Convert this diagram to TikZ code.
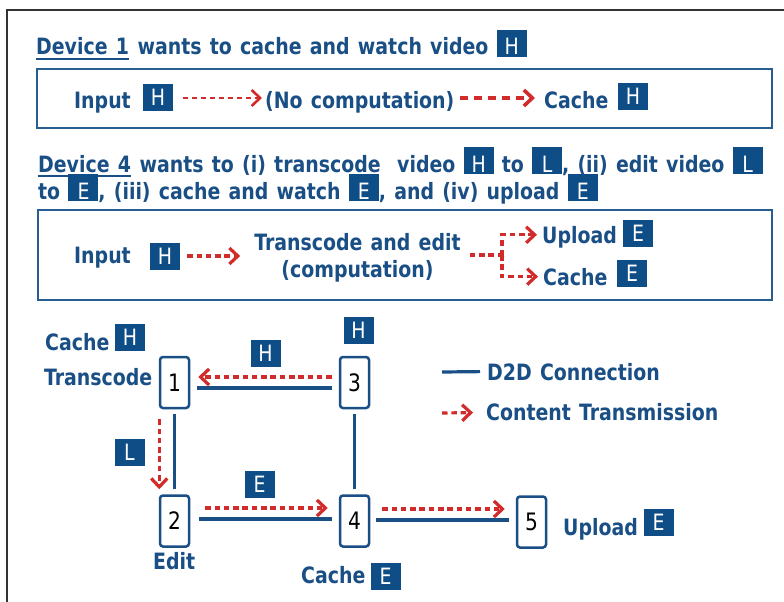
\documentclass[tikz,border=0pt]{standalone}
\usepackage{fontspec}
\setmainfont{DejaVu Sans Condensed}[FakeStretch=0.935,WordSpace=1.25]
\usetikzlibrary{arrows.meta,calc}
\definecolor{tblue}{RGB}{26,79,134}
\definecolor{bblue}{RGB}{15,77,134}
\definecolor{fblue}{RGB}{40,93,145}
\definecolor{ared}{RGB}{209,43,43}
\newcommand{\lbx}[1]{{\setlength{\fboxsep}{0pt}\colorbox{bblue}{\makebox[30pt]{\rule[-2pt]{0pt}{27pt}\mdseries\textcolor{white}{#1}}}}}
\begin{document}
\begin{tikzpicture}[x=1pt,y=-1pt,
 txt/.style={inner sep=0pt,anchor=base west,text=tblue,font=\fontsize{22.5}{26}\selectfont\bfseries},
 lbox/.style={fill=bblue,text=white,minimum width=30pt,minimum height=27pt,inner sep=0pt,font=\fontsize{22.5}{26}\selectfont},
 dev/.style={draw=tblue,line width=2.5pt,rounded corners=3pt,fill=white,minimum width=29pt,minimum height=51pt,inner sep=0pt,font=\fontsize{24}{26}\selectfont},
 link/.style={draw=tblue,line width=3.2pt},
 flow/.style={draw=ared,line width=3.2pt,dash pattern=on 5.5pt off 3.8pt,-{Straight Barb[length=8.5pt,width=16pt]}},
 flowline/.style={draw=ared,line width=3.2pt,dash pattern=on 5.5pt off 3.8pt},
 frame/.style={draw=fblue,line width=2pt}]
\useasboundingbox (0,0) rectangle (784,602);
\fill[white] (0,0) rectangle (784,602);
% outer frame
\draw[line width=1.5pt,draw=black!80] (7,602) -- (7,10) -- (784,10);
% heading 1
\node[txt] (d1) at (36,55) {Device 1};
\draw[tblue,line width=2pt] ($(d1.base west)+(0,4)$) -- ($(d1.base east)+(0,4)$);
\node[txt] (d1r) at (d1.base east) {\ wants to cache and watch video \lbx{H}};
% box 1
\draw[frame] (37,69) rectangle (772,128);
\node[txt] (in1) at (74,108) {Input};
\node[lbox] (h1) at (158,97) {H};
\node[txt] (nc) at (265,108) {(No computation)};
\node[txt] (ca1) at (544,108) {Cache};
\node[lbox] (h1b) at (633,96) {H};
\draw[flow,line width=2.6pt,dash pattern=on 5pt off 4pt] ($(h1.east)+(10,1)$) -- ($(h1.east -| nc.west)+(-3,1)$);
\draw[flow,line width=3.6pt,dash pattern=on 8pt off 6pt] ($(nc.east |- h1.east)+(5,1)$) -- ($(h1.east -| ca1.west)+(-9,1)$);
% heading 2
\node[txt] (d4) at (38,172) {Device 4};
\draw[tblue,line width=2pt] ($(d4.base west)+(0,4)$) -- ($(d4.base east)+(0,4)$);
\node[txt] (d4r) at (d4.base east) {\ wants to (i) transcode\ \ video \lbx{H} to \lbx{L}, (ii) edit video \lbx{L}};
\node[txt] (d4s) at (38,199) {to \lbx{E}, (iii) cache and watch \lbx{E}, and (iv) upload \lbx{E}};
% box 2
\draw[frame] (38,210) rectangle (772,300);
\node[txt] (in2) at (74,263) {Input};
\node[lbox] (h2) at (165,256) {H};
\node[txt,anchor=base] (te1) at (357.5,250) {Transcode and edit};
\node[txt,anchor=base] (te2) at (357.5,277) {(computation)};
\node[txt] (up) at (542,243) {Upload};
\node[lbox] (e1) at (638,233) {E};
\node[txt] (ca2) at (543,285) {Cache};
\node[lbox] (e2) at (632,273.5) {E};
\coordinate (split) at (502,255);
\draw[flow] ($(h2.east)+(7,0)$) -- ($(h2.east -| te1.west)+(-14,0)$);
\draw[flowline] ($(te1.east |- split)+(9,0)$) -- (split);
\draw[flow] (split) |- ($(up.west)+(-5,-2)$);
\draw[flow] (split) |- ($(ca2.west)+(-5,0)$);
% network
\node[dev] (n1) at (174.5,382.5) {1};
\node[dev] (n3) at (354.5,382.5) {3};
\node[dev] (n2) at (174.5,521) {2};
\node[dev] (n4) at (354.5,521) {4};
\node[dev] (n5) at (531.5,522) {5};
\node[txt] (cah) at (45,350) {Cache};
\node[lbox] (hc) at (130,337) {H};
\node[txt] (trc) at (44,385) {Transcode};
\node[lbox] (h3) at (358.5,330) {H};
\node[lbox] (h13) at (265.5,353.5) {H};
\node[lbox] (l12) at (129.5,452) {L};
\node[lbox] (e24) at (259.5,484) {E};
\node[txt] (edt) at (153,569) {Edit};
\node[txt] (ca4) at (301,583) {Cache};
\node[lbox] (e4) at (385.5,576) {E};
\node[txt] (up5) at (563,535) {Upload};
\node[lbox] (e5) at (658.5,522) {E};
% links
\draw[link] ($(n1.east)+(7,5.5)$) -- ($(n3.west)+(-7,5.5)$);
\draw[link] ($(n1.south)+(0,5)$) -- ($(n2.north)+(0,-5)$);
\draw[link] ($(n3.south)+(0,5)$) -- ($(n4.north)+(0,-5)$);
\draw[link] ($(n2.east)+(9,-2)$) -- ($(n4.west)+(-7,-2)$);
\draw[link] ($(n4.east)+(6,-1)$) -- ($(n5.west)+(-7,-2)$);
% transmissions
\draw[flow] ($(n3.west)+(-7,-5.5)$) -- ($(n1.east)+(8,-5.5)$);
\draw[flow] ($(n1.south west)+(0.5,10)$) -- ($(n2.north west)+(0.5,-5)$);
\draw[flow] ($(n2.east)+(15,-13)$) -- ($(n4.west)+(-11,-13)$);
\draw[flow] ($(n4.east)+(12,-12)$) -- ($(n5.west)+(-11,-13)$);
% legend
\node[txt] (lg1) at (487,380) {D2D Connection};
\node[txt] (lg2) at (486,420) {Content Transmission};
\coordinate (lg1s) at (442,372);
\coordinate (lg2s) at (442,413);
\draw[link] (lg1s) -- ($(lg1.west)+(-7,0)$);
\draw[flow] (lg2s) -- ($(lg2.west)+(-13,1)$);
\end{tikzpicture}
\end{document}
